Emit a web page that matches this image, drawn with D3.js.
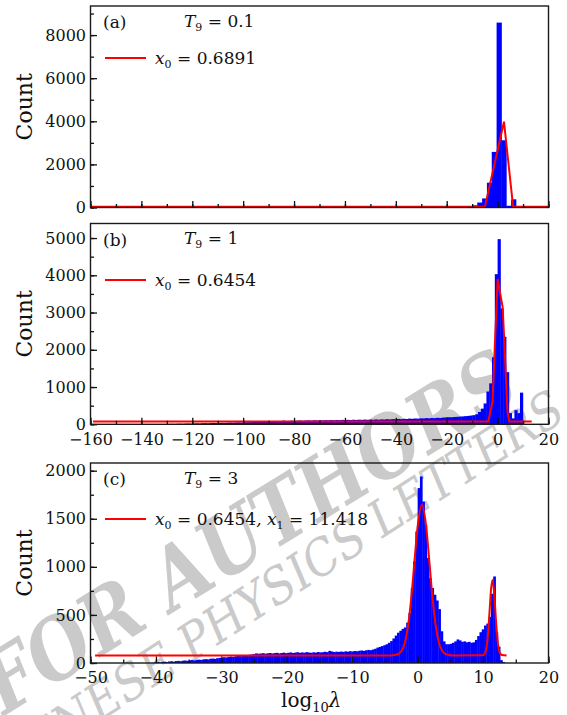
<!DOCTYPE html>
<html>
<head>
<meta charset="utf-8">
<script src="https://cdn.jsdelivr.net/npm/d3@7"></script>
<style>
    body { margin: 0; background: #fff; }
    svg text { font-family: "DejaVu Serif", serif; fill: #111; }
</style>
</head>
<body>
<svg id="chart" width="567" height="715"></svg>
<script>
/**
 * histogram data
 */
// panel (a), T9 = 0.1
let a_bin_start = -13.7;
let a_bin_width = 1.9;
let a_counts = [40, 60, 100, 230, 420, 1150, 2580, 8580, 3120, 80, 380];
let a_fit_x = [-160, -5.0, 2.5, 6.1, 20];
let a_fit_y = [30, 30, 3980, 30, 30];

// panel (b), T9 = 1
let b_bin_start = -130.9;
let b_bin_width = 1.1;
let b_counts = [
    8, 10, 12, 9, 14, 16, 13, 18, 20, 17,
    22, 25, 21, 28, 30, 26, 33, 35, 31, 38,
    40, 37, 44, 46, 42, 49, 51, 47, 54, 56,
    58, 62, 66, 61, 68, 72, 67, 75, 79, 74,
    82, 86, 98, 88, 92, 96, 90, 98, 101, 95,
    102, 106, 99, 108, 103, 110, 105, 112, 107, 114,
    109, 116, 111, 118, 113, 120, 115, 122, 117, 124,
    119, 126, 121, 128, 123, 131, 126, 134, 129, 137,
    132, 140, 136, 144, 139, 148, 143, 152, 147, 156,
    152, 160, 157, 165, 161, 170, 166, 175, 171, 180,
    185, 190, 188, 196, 200, 206, 212, 218, 225, 235,
    245, 270, 330, 420, 560, 880, 1100, 1800, 4030,
    4970, 3110, 2350, 1400, 300, 160, 380, 300, 850
];
let b_fit_x = [-159, -3.7, -2.0, 0.0, 2.0, 3.9, 4.6, 13.4];
let b_fit_y = [75, 75, 600, 3900, 3130, 320, 75, 75];

// panel (c), T9 = 3
let c_bin_start = -40.25;
let c_bin_width = 0.35;
let c_counts = [
    8, 10, 6, 12, 14, 10, 16, 18, 14, 20,
    22, 18, 24, 26, 22, 28, 30, 27, 33, 35,
    32, 38, 40, 37, 44, 46, 43, 50, 53, 56,
    60, 58, 64, 67, 63, 70, 74, 71, 78, 82,
    79, 85, 88, 92, 100, 96, 99, 102, 97, 101,
    104, 99, 103, 106, 100, 104, 108, 102, 106, 110,
    104, 108, 112, 106, 110, 107, 113, 109, 106, 111,
    108, 114, 110, 112, 117, 113, 126, 120, 114, 118,
    115, 119, 116, 121, 118, 123, 120, 125, 122, 127,
    130, 126, 132, 136, 133, 140, 148, 160, 168, 176,
    185, 195, 210, 228, 255, 285, 315, 335, 355, 370,
    420, 520, 779, 1056, 1368, 1819, 1940, 1680, 1438, 1092,
    883, 779, 710, 650, 560, 330, 225, 195, 195, 200,
    210, 225, 245, 235, 220, 225, 215, 220, 210, 215,
    240, 280, 320, 350, 390, 410, 480, 720, 900, 320,
    170, 30, 10
];
let c_fit_x = [-49.3, -4.0, -3.5, -3.0, -2.5, -2.0, -1.5, -1.0, -0.5, 0.0, 0.65, 1.3, 1.8, 2.3, 2.8, 3.3, 3.8, 4.3, 4.8, 5.3,
    10.0, 10.4, 10.7, 11.0, 11.2, 11.44, 11.7, 12.0, 12.3, 12.6, 12.9, 13.6];
let c_fit_y = [78, 78, 83, 92, 122, 200, 370, 659, 1046, 1421, 1645, 1421, 1046, 659, 370, 200, 122, 92, 83, 78,
    80, 122, 258, 544, 750, 863, 732, 416, 186, 100, 83, 78];

// tick labels
let ab_x_ticks = [-160, -140, -120, -100, -80, -60, -40, -20, 0, 20];
let c_x_ticks = [-50, -40, -30, -20, -10, 0, 10, 20];
let a_y_ticks = [0, 2000, 4000, 6000, 8000];
let b_y_ticks = [0, 1000, 2000, 3000, 4000, 5000];
let c_y_ticks = [0, 500, 1000, 1500, 2000];

// legend / label texts
let panel_letters = ['(a)', '(b)', '(c)'];
let panel_temps = ['0.1', '1', '3'];

let color_bar = '#0000ff';
let color_fit = '#ff0000';
let color_watermark = '#cacaca';

let svg = d3.select('#chart');
let plot_left = 90.5, plot_right = 548.5;

//////////////////////////////////////////////////////////////
//////////////////// watermark ///////////////////////////////
//////////////////////////////////////////////////////////////
function draw_watermark() {
    let wm = svg.append('g').attr('class', 'watermark');
    wm.append('text')
        .attr('transform', 'translate(4,716) rotate(-31.5)')
        .attr('font-size', 84).attr('font-style', 'italic').attr('font-weight', 'bold')
        .attr('textLength', 610).attr('lengthAdjust', 'spacingAndGlyphs')
        .style('fill', color_watermark)
        .text('FOR AUTHORS');
    wm.append('text')
        .attr('transform', 'translate(568,418) rotate(-33)')
        .attr('text-anchor', 'end')
        .attr('font-size', 50).attr('font-style', 'italic')
        .attr('textLength', 690).attr('lengthAdjust', 'spacingAndGlyphs')
        .style('fill', color_watermark)
        .text('CHINESE PHYSICS LETTERS');
}

//////////////////////////////////////////////////////////////
//////////////////// one panel ///////////////////////////////
//////////////////////////////////////////////////////////////
function draw_panel(opts) {
    let x = d3.scaleLinear().domain(opts.x_domain).range([plot_left, plot_right]);
    let y = d3.scaleLinear().domain([0, opts.y_max]).range([opts.bottom, opts.top]);

    let g = svg.append('g');
    let clip_id = 'clip_' + opts.id;
    g.append('clipPath').attr('id', clip_id).append('rect')
        .attr('x', plot_left).attr('y', opts.top)
        .attr('width', plot_right - plot_left).attr('height', opts.bottom - opts.top);

    let plot = g.append('g').attr('clip-path', 'url(#' + clip_id + ')');

    // histogram bars
    plot.append('g').selectAll('rect')
        .data(opts.counts)
        .join('rect')
        .attr('x', (d, i) => x(opts.bin_start + i * opts.bin_width))
        .attr('width', (d, i) => x(opts.bin_start + (i + 1) * opts.bin_width) - x(opts.bin_start + i * opts.bin_width) + 0.4)
        .attr('y', d => y(d))
        .attr('height', d => y(0) - y(d))
        .attr('fill', color_bar);

    // fit curve
    let fit_points = opts.fit_x.map((v, i) => [v, opts.fit_y[i]]);
    let line = d3.line().x(d => x(d[0])).y(d => y(d[1])).curve(opts.smooth ? d3.curveMonotoneX : d3.curveLinear);
    plot.append('path')
        .datum(fit_points)
        .attr('d', line)
        .attr('fill', 'none')
        .attr('stroke', color_fit)
        .attr('stroke-width', 2);

    // axes, ticks pointing inward
    let x_minor = d3.range(opts.x_domain[0], opts.x_domain[1] + 0.01, opts.x_minor_step);
    let y_minor = d3.range(0, opts.y_max, opts.y_minor_step);

    let x_axis_minor = g.append('g').attr('transform', 'translate(0,' + opts.bottom + ')')
        .call(d3.axisBottom(x).tickValues(x_minor).tickSize(-3.5).tickFormat(''));
    let x_axis = g.append('g').attr('transform', 'translate(0,' + opts.bottom + ')')
        .call(d3.axisBottom(x).tickValues(opts.x_ticks).tickSize(-6.5).tickPadding(9)
            .tickFormat(opts.x_labels ? d3.format('d') : ''));
    let y_axis_minor = g.append('g').attr('transform', 'translate(' + plot_left + ',0)')
        .call(d3.axisLeft(y).tickValues(y_minor).tickSize(-3.5).tickFormat(''));
    let y_axis = g.append('g').attr('transform', 'translate(' + plot_left + ',0)')
        .call(d3.axisLeft(y).tickValues(opts.y_ticks).tickSize(-6.5).tickPadding(4.5).tickFormat(d3.format('d')));

    [x_axis_minor, x_axis, y_axis_minor, y_axis].forEach(function (ax) {
        ax.select('.domain').remove();
        ax.selectAll('line').attr('stroke', '#111').attr('stroke-width', 1.3);
        ax.selectAll('text').attr('font-size', 16).attr('font-family', '"DejaVu Serif", serif').style('fill', '#111');
    });

    // frame
    g.append('rect')
        .attr('x', plot_left).attr('y', opts.top)
        .attr('width', plot_right - plot_left).attr('height', opts.bottom - opts.top)
        .attr('fill', 'none').attr('stroke', '#1a1a1a').attr('stroke-width', 1.4);

    // y label
    g.append('text')
        .attr('transform', 'translate(32,' + ((opts.top + opts.bottom) / 2) + ') rotate(-90)')
        .attr('text-anchor', 'middle')
        .attr('font-size', 22)
        .text('Count');

    // panel letter and temperature
    g.append('text').attr('x', 103).attr('y', opts.top + 22).attr('font-size', 17).text(opts.letter);
    let t = g.append('text').attr('x', 184).attr('y', opts.top + 20.5).attr('font-size', 17);
    t.append('tspan').attr('font-style', 'italic').text('T');
    t.append('tspan').attr('font-size', 11).attr('dy', 4).text('9');
    t.append('tspan').attr('dy', -4).text(' = ' + opts.temp);

    // legend
    g.append('line')
        .attr('x1', 105).attr('x2', 146)
        .attr('y1', opts.legend_y).attr('y2', opts.legend_y)
        .attr('stroke', color_fit).attr('stroke-width', 2);
    let lt = g.append('text').attr('x', 155).attr('y', opts.legend_y + 5.5).attr('font-size', 17);
    opts.legend.forEach(function (item, i) {
        lt.append('tspan').attr('font-style', 'italic').text((i > 0 ? ', ' : '') + 'x');
        lt.append('tspan').attr('font-size', 11).attr('dy', 4).text(String(i));
        lt.append('tspan').attr('dy', -4).text(' = ' + item);
    });
}

draw_watermark();

draw_panel({
    id: 'a', top: 6, bottom: 207.5, letter: panel_letters[0], temp: panel_temps[0],
    x_domain: [-160, 20], y_max: 9350, x_ticks: ab_x_ticks, y_ticks: a_y_ticks,
    x_minor_step: 10, y_minor_step: 1000, x_labels: false,
    bin_start: a_bin_start, bin_width: a_bin_width, counts: a_counts,
    fit_x: a_fit_x, fit_y: a_fit_y, smooth: false,
    legend_y: 58, legend: ['0.6891']
});

draw_panel({
    id: 'b', top: 223.5, bottom: 424.3, letter: panel_letters[1], temp: panel_temps[1],
    x_domain: [-160, 20], y_max: 5390, x_ticks: ab_x_ticks, y_ticks: b_y_ticks,
    x_minor_step: 10, y_minor_step: 500, x_labels: true,
    bin_start: b_bin_start, bin_width: b_bin_width, counts: b_counts,
    fit_x: b_fit_x, fit_y: b_fit_y, smooth: false,
    legend_y: 280, legend: ['0.6454']
});

draw_panel({
    id: 'c', top: 463, bottom: 663, letter: panel_letters[2], temp: panel_temps[2],
    x_domain: [-50, 20], y_max: 2080, x_ticks: c_x_ticks, y_ticks: c_y_ticks,
    x_minor_step: 5, y_minor_step: 250, x_labels: true,
    bin_start: c_bin_start, bin_width: c_bin_width, counts: c_counts,
    fit_x: c_fit_x, fit_y: c_fit_y, smooth: true,
    legend_y: 519, legend: ['0.6454', '11.418']
});

// x axis title
let xl = svg.append('text').attr('x', 281).attr('y', 707).attr('font-size', 20);
xl.append('tspan').text('log');
xl.append('tspan').attr('font-size', 13).attr('dy', 5).text('10');
xl.append('tspan').attr('dy', -5).attr('font-style', 'italic').text('λ');
</script>
</body>
</html>
